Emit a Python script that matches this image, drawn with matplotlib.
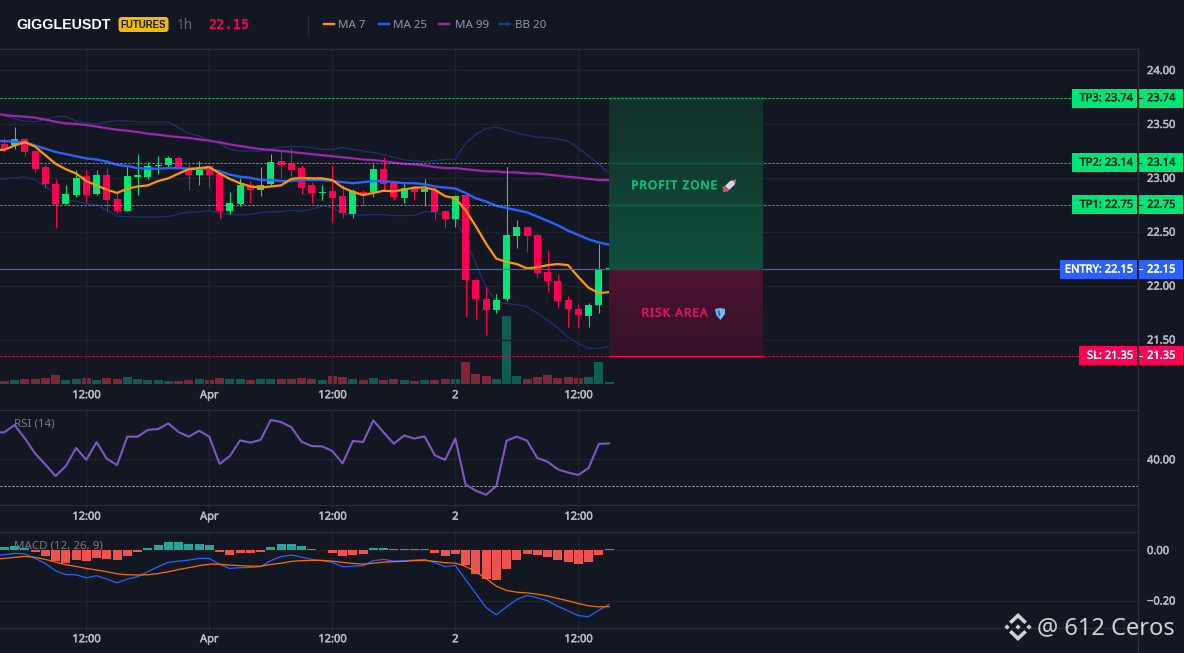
import numpy as np
import matplotlib
matplotlib.use("Agg")
import matplotlib.pyplot as plt
import matplotlib.patheffects as pe
from matplotlib.patches import Rectangle, FancyBboxPatch, Polygon
from matplotlib.transforms import Affine2D

# ---------------- data ----------------
open_ = [23.31,23.30,23.36,23.25,23.10,22.94,22.76,22.84,23.02,22.85,23.03,22.80,22.69,23.01,23.01,23.11,23.12,23.18,23.09,23.03,
         23.11,23.04,22.69,22.76,22.93,22.89,22.94,23.16,23.13,23.09,22.93,22.86,22.88,22.83,22.66,22.87,22.87,23.08,22.95,22.81,
         22.91,22.87,22.89,22.69,22.62,22.84,22.05,21.88,21.77,21.88,22.46,22.54,22.47,22.13,22.04,21.87,21.78,21.72,21.82,22.15]
high = [23.37,23.47,23.37,23.26,23.12,22.99,22.93,23.07,23.07,23.07,23.09,22.87,23.12,23.22,23.15,23.20,23.20,23.20,23.13,23.16,
        23.11,23.05,22.87,23.00,22.97,23.10,23.22,23.26,23.28,23.12,22.96,22.93,23.12,22.93,22.90,22.89,23.13,23.19,22.98,22.94,
        22.92,22.99,22.91,22.70,22.84,22.84,22.06,21.99,21.92,23.10,22.61,22.55,22.49,22.33,22.11,21.90,21.83,21.84,22.39,22.16]
low = [23.24,23.27,23.20,23.05,22.91,22.53,22.76,22.82,22.78,22.84,22.69,22.67,22.69,22.84,22.99,23.04,23.10,23.09,22.89,22.93,
       22.91,22.62,22.66,22.74,22.77,22.83,22.92,23.00,23.02,22.85,22.77,22.79,22.59,22.63,22.63,22.74,22.82,22.89,22.79,22.77,
       22.79,22.74,22.62,22.53,22.54,21.71,21.69,21.54,21.75,21.86,22.35,22.31,22.07,21.94,21.79,21.62,21.62,21.62,21.75,22.14]
close = [23.27,23.36,23.24,23.08,22.94,22.76,22.85,23.00,22.84,23.03,22.79,22.69,23.02,23.02,23.11,23.12,23.18,23.09,23.03,23.09,
         23.03,22.69,22.77,22.93,22.89,22.93,23.15,23.12,23.07,22.91,22.86,22.87,22.81,22.67,22.88,22.84,23.08,22.94,22.82,22.91,
         22.87,22.90,22.68,22.62,22.83,22.05,21.88,21.77,21.87,22.47,22.54,22.46,22.12,22.04,21.86,21.78,21.73,21.82,22.15,22.16]
volume = [7,10,13,13,16,25,10,13,16,10,16,13,19,13,10,10,7,7,10,13,10,16,13,13,10,13,13,13,13,16,
          13,10,22,19,13,10,16,10,13,10,7,10,10,13,13,64,28,22,13,202,22,13,19,25,16,19,16,19,64,3]

# line series start one candle before the first visible candle
ma7 = [23.26,23.26,23.30,23.33,23.29,23.21,23.13,23.08,23.04,22.97,22.93,22.89,22.86,22.90,22.92,22.93,22.97,22.995,23.04,23.08,23.09,
       23.10,23.04,22.99,22.95,22.92,22.91,22.92,22.93,22.99,23.00,22.995,22.995,22.98,22.91,22.87,22.84,22.86,22.88,22.875,22.89,
       22.91,22.91,22.89,22.83,22.81,22.70,22.55,22.39,22.25,22.22,22.20,22.16,22.17,22.19,22.20,22.19,22.08,21.98,21.93,21.94]
ma25 = [23.345,23.34,23.335,23.33,23.30,23.27,23.24,23.22,23.20,23.18,23.17,23.15,23.12,23.11,23.09,23.085,23.085,23.09,23.09,23.085,23.085,
        23.085,23.06,23.03,23.01,23.00,22.98,22.98,22.97,22.97,22.98,22.98,22.98,22.97,22.96,22.95,22.96,22.97,22.97,22.96,22.95,
        22.95,22.94,22.92,22.91,22.90,22.86,22.81,22.78,22.74,22.72,22.70,22.68,22.64,22.60,22.56,22.51,22.47,22.43,22.40,22.38]
ma99 = [23.598,23.583,23.573,23.567,23.558,23.54,23.52,23.505,23.50,23.49,23.475,23.46,23.446,23.437,23.425,23.41,23.40,23.388,23.378,23.37,23.357,
        23.344,23.33,23.31,23.295,23.28,23.267,23.258,23.25,23.24,23.23,23.22,23.21,23.20,23.19,23.18,23.17,23.165,23.155,23.14,23.13,
        23.125,23.115,23.10,23.09,23.09,23.08,23.07,23.06,23.06,23.05,23.05,23.04,23.04,23.03,23.02,23.01,23.00,22.99,22.98,22.98]
bb_upper = [23.60,23.576,23.545,23.527,23.52,23.54,23.57,23.567,23.527,23.508,23.50,23.517,23.53,23.527,23.52,23.52,23.52,23.517,23.465,23.412,23.388,
            23.354,23.32,23.264,23.25,23.25,23.245,23.27,23.283,23.292,23.289,23.28,23.264,23.264,23.28,23.264,23.249,23.233,23.215,23.19,23.165,
            23.16,23.15,23.16,23.17,23.174,23.32,23.403,23.459,23.471,23.443,23.418,23.394,23.378,23.372,23.36,23.34,23.274,23.202,23.128,23.04]
bb_lower = [22.986,22.99,23.00,23.01,22.98,22.92,22.85,22.79,22.785,22.76,22.75,22.70,22.645,22.64,22.636,22.636,22.636,22.64,22.665,22.68,22.686,
            22.695,22.67,22.66,22.655,22.66,22.68,22.683,22.686,22.70,22.69,22.71,22.738,22.726,22.67,22.652,22.655,22.66,22.658,22.65,22.65,
            22.652,22.686,22.68,22.652,22.615,22.423,22.207,21.99,21.85,21.835,21.823,21.805,21.743,21.68,21.61,21.52,21.464,21.418,21.418,21.434]
rsi = [50.0,50.0,52.7,47.8,42.2,38.1,33.8,37.5,44.2,39.8,46.4,40.2,37.9,48.4,48.4,50.9,51.2,53.3,50.1,48.4,50.6,
       48.4,38.3,41.2,47.0,46.2,47.2,54.6,53.8,51.9,46.5,44.9,44.8,43.1,38.5,46.8,46.4,54.4,50.0,45.8,48.8,
       47.7,48.5,41.5,39.8,47.7,30.7,28.4,26.9,30.1,46.9,48.4,46.9,40.5,39.1,36.3,35.1,34.2,36.8,45.7,45.9]
macd = [-.021,-.019,-.013,-.015,-.033,-.053,-.082,-.097,-.098,-.11,-.102,-.115,-.13,-.115,-.106,-.086,-.066,-.049,-.044,-.04,-.033,
        -.033,-.057,-.073,-.07,-.069,-.066,-.042,-.026,-.02,-.028,-.037,-.042,-.049,-.066,-.064,-.062,-.042,-.037,-.044,-.042,
        -.04,-.037,-.05,-.066,-.061,-.117,-.172,-.228,-.256,-.225,-.196,-.18,-.189,-.201,-.223,-.241,-.26,-.264,-.238,-.216]
signal = [-.036,-.033,-.029,-.025,-.029,-.037,-.048,-.058,-.065,-.073,-.079,-.086,-.094,-.098,-.099,-.098,-.093,-.086,-.077,-.07,-.062,
          -.056,-.056,-.06,-.062,-.064,-.064,-.057,-.052,-.045,-.042,-.041,-.041,-.044,-.049,-.053,-.056,-.052,-.048,-.046,-.045,
          -.042,-.041,-.045,-.05,-.052,-.064,-.086,-.113,-.143,-.16,-.167,-.17,-.175,-.182,-.192,-.201,-.212,-.221,-.225,-.224]
hist = [.013,.017,.009,-.008,-.024,-.045,-.053,-.04,-.044,-.032,-.036,-.04,-.024,-.008,.008,.019,.032,.032,.024,.024,
        .02,-.008,-.02,-.012,-.012,-.008,.012,.024,.024,.016,.005,.002,-.012,-.024,-.02,-.016,.008,.008,.004,.004,
        .004,.004,-.012,-.024,-.016,-.06,-.095,-.115,-.119,-.075,-.04,-.016,-.02,-.028,-.04,-.048,-.056,-.048,-.02,.004]

time_ticks = [8, 20, 32, 44, 56]
time_labels = ["12:00", "Apr", "12:00", "2", "12:00"]
price_ticks = [21.5, 22.0, 22.5, 23.0, 23.5, 24.0]
rsi_ticks = [40]
macd_ticks = [-0.2, 0.0]
macd_tick_labels = ["\u22120.20", "0.00"]
rsi_guide = 30
entry, sl = 22.15, 21.35
tp_levels = [22.75, 23.14, 23.74]
tp_names = ["TP1", "TP2", "TP3"]
box_start, box_end = 59, 74

# ---------------- style ----------------
BG = "#131722"; GRID = "#1e222d"; SEP = "#2a2e39"; TXT = "#b8bcc6"
UP = "#00e676"; DOWN = "#ff0055"; BLUE = "#2962ff"
W, H, AXW = 1184, 653, 1138
DOT = (0, (2, 2))
plt.rcParams["font.family"] = ["Noto Sans", "DejaVu Sans"]
fig = plt.figure(figsize=(W/100, H/100), dpi=100, facecolor=BG)

def heavy(color, w=0.35):
    return [pe.withStroke(linewidth=w, foreground=color)]

def pane(top, bottom, **kw):
    a = fig.add_axes([0, 1-bottom/H, AXW/W, (bottom-top)/H], **kw)
    a.set_facecolor("none")
    for s in a.spines.values():
        s.set_visible(False)
    return a

xl = (-0.42, 110.6)
n = len(close)
xs = np.arange(n)
xl_line = np.arange(-1, n)
up = np.array(close) >= np.array(open_)

# volume pane
axv = pane(49, 383.5)
axv.bar(xs, volume, width=0.88, color=["#0f5c55" if u else "#7f2737" for u in up], linewidth=0)
axv.set_xlim(xl); axv.set_ylim(0, 1003); axv.axis("off")

# main pane
ax = pane(49, 383.5)
ax.set_xlim(xl); ax.set_ylim(21.092, 24.195)
ax.set_autoscale_on(False)
ax.grid(True, color=GRID, lw=1.0); ax.set_axisbelow(True)
ax.plot(xl_line, bb_upper, color="#1e3270", lw=0.85, zorder=2)
ax.plot(xl_line, bb_lower, color="#1e3270", lw=0.85, zorder=2)
ax.plot(xl_line, ma99, color="#9c27b0", lw=1.6, zorder=2.2)
body_bot = np.minimum(open_, close); body_h = np.abs(np.array(close)-np.array(open_))
cols = np.where(up, UP, DOWN)
wicks = ax.vlines(xs, low, high, colors=cols, lw=0.75, zorder=3)
wicks.set_snap(True)
ax.bar(xs, np.maximum(body_h, 0.012), bottom=body_bot, width=0.68, color=cols, linewidth=0, zorder=3.1)
ax.plot(xl_line, ma25, color=BLUE, lw=1.7, zorder=4)
ax.plot(xl_line, ma7, color="#ff9800", lw=1.6, zorder=4.1)

for lvl in tp_levels:
    ax.plot([xl[0], xl[1]*1072/AXW], [lvl, lvl], color="#1ee08a" if lvl != tp_levels[-1] else UP,
            lw=0.72, ls=DOT, zorder=4.5)
ax.plot(xl, [entry, entry], color=BLUE, lw=0.85, zorder=4.5)
ax.plot(xl, [sl, sl], color=DOWN, lw=0.72, ls=DOT, zorder=4.5)

def grad(c_top, c_bot, y0, y1):
    c0 = np.array(matplotlib.colors.to_rgb(c_top)); c1 = np.array(matplotlib.colors.to_rgb(c_bot))
    t = np.linspace(0, 1, 128)[:, None, None]
    img = c0[None, None, :]*(1-t) + c1[None, None, :]*t
    ax.imshow(img, extent=[box_start, box_end, y0, y1], aspect="auto", origin="upper", zorder=5, alpha=0.98,
              interpolation="bilinear")
grad("#15302c", "#0f503e", entry, tp_levels[-1])
grad("#501232", "#33142a", sl, entry)
ax.set_xlim(xl); ax.set_ylim(21.092, 24.195)
for lvl in tp_levels[:2]:
    ax.plot([box_start, box_end], [lvl, lvl], color=UP, lw=2.0, alpha=0.10, zorder=5.1)
ax.plot([box_start, box_end], [tp_levels[-1]]*2, color=UP, lw=0.72, ls=DOT, zorder=5.2)
ax.plot([box_start, box_end], [entry, entry], color=DOWN, lw=0.72, ls=DOT, zorder=5.2, alpha=.8)
ax.plot([box_start, box_end], [sl, sl], color=DOWN, lw=0.9, zorder=5.2)

# RSI
axr = pane(410, 505)
axr.set_xlim(xl); axr.set_ylim(23.09, 58.27)
axr.grid(True, color=GRID, lw=1.0); axr.set_axisbelow(True)
axr.plot(xl_line, rsi, color="#7e57c2", lw=1.5, zorder=3)
axr.axhline(rsi_guide, color="#b2b5be", lw=0.72, ls=DOT, zorder=2)

# MACD
axm = pane(532, 627.5)
axm.set_xlim(xl); axm.set_ylim(-.307, .0715)
axm.grid(True, color=GRID, lw=1.0); axm.set_axisbelow(True)
axm.bar(xs, hist, width=0.88, color=["#26a69a" if h >= 0 else "#ef5350" for h in hist], linewidth=0, zorder=2)
axm.plot(xl_line, macd, color=BLUE, lw=0.9, zorder=3)
axm.plot(xl_line, signal, color="#ff6d00", lw=0.9, zorder=3.1)

for a, yt_vals, lab in ((ax, price_ticks, [f"{v:.2f}" for v in price_ticks]),
                        (axr, rsi_ticks, [f"{v:.2f}" for v in rsi_ticks]),
                        (axm, macd_ticks, macd_tick_labels)):
    a.set_xticks(time_ticks); a.set_xticklabels(time_labels, fontsize=8, color=TXT)
    a.set_yticks(yt_vals); a.set_yticklabels(lab, fontsize=8, color=TXT)
    a.yaxis.tick_right()
    a.tick_params(axis="y", length=3.6, width=0.8, color=GRID, pad=2.9)
    a.tick_params(axis="x", length=2.2, width=0.8, color=SEP, pad=2.6)
    for t in a.get_xticklabels() + a.get_yticklabels():
        t.set_path_effects(heavy(TXT))

# ---------------- figure furniture (pixel coordinates, top-left origin) ----------------
PX = Affine2D().scale(1, -1).translate(0, H)

def T(x, y, s, **kw):
    kw.setdefault("va", "center"); kw.setdefault("ha", "left")
    return fig.text(x/W, 1-y/H, s, **kw)

def L(x0, y0, x1, y1, c, lw=0.8, z=1):
    fig.add_artist(plt.Line2D([x0/W, x1/W], [1-y0/H, 1-y1/H], color=c, lw=lw, zorder=z))

def P(pts, c, z=20, **kw):
    fig.add_artist(Polygon(pts, closed=True, transform=PX, facecolor=c, edgecolor="none", zorder=z, **kw))

for yy in (48.5, 410, 505, 532, 627.5):
    L(0, yy, AXW, yy, SEP, 0.9)
L(AXW, 49, AXW, H, SEP, 0.9)

# header
T(16, 25, "GIGGLEUSDT", color="white", fontsize=10.3, fontweight="bold", family=["Liberation Sans"])
fig.add_artist(FancyBboxPatch((118.5, 17), 50, 15, boxstyle="round,pad=0,rounding_size=3", transform=PX,
                              facecolor="#f0b90b", edgecolor="none", zorder=5))
T(143.5, 25, "FUTURES", color="#1a1a1a", fontsize=6.9, fontweight="bold", ha="center", zorder=6, family=["Liberation Sans"])
T(177, 25.5, "1h", color="#5d6470", fontsize=9.8)
T(208, 25, "22.15", color=DOWN, fontsize=9.8, fontweight="bold", family=["DejaVu Sans Mono"])
L(307.5, 17, 307.5, 35, SEP, 0.9)
for x0, c, tx, label in ((324, "#ff9800", 338, "MA 7"), (379, BLUE, 393, "MA 25"),
                         (439, "#9c27b0", 455, "MA 99"), (500, "#1e3a8a", 515, "BB 20")):
    L(x0, 24, x0+10, 24, c, 1.7)
    T(tx, 25, label, color="#8f97a6", fontsize=8.3)

# price tags
tag_h = 19/107.8
yt = ax.get_yaxis_transform()
def tag(price, left_x, fc, tc, label):
    ax.add_patch(Rectangle((left_x/AXW, price-tag_h/2), (1137-left_x)/AXW, tag_h, transform=yt, facecolor=fc,
                           edgecolor="none", clip_on=False, zorder=8))
    ax.add_patch(Rectangle((1138.7/AXW, price-tag_h/2), 44.6/AXW, tag_h, transform=yt, facecolor=fc,
                           edgecolor="none", clip_on=False, zorder=8))
    for xp, s, ha in ((1133, label, "right"), (1147, f"{price:.2f}", "left")):
        ax.text(xp/AXW, price-0.005, s, transform=yt, ha=ha, va="center", color=tc, fontsize=8,
                clip_on=False, zorder=9, path_effects=heavy(tc))
    ax.plot([1139/AXW, 1142/AXW], [price, price], transform=yt, color=tc, lw=0.8, clip_on=False, zorder=9)
for lvl, nm in zip(tp_levels, tp_names):
    tag(lvl, 1072, UP, "#0b2a22", f"{nm}: {lvl:.2f}")
tag(entry, 1060, BLUE, "#ffffff", f"ENTRY: {entry:.2f}")
tag(sl, 1079, DOWN, "#ffffff", f"SL: {sl:.2f}")

# box labels (letter-spaced with hair spaces)
def spaced(s):
    return "\u200a".join(s)
T(674, 186.5, spaced("PROFIT ZONE"), color="#00c878", fontsize=8.4, ha="center", zorder=10, path_effects=heavy("#00c878", 0.4))
T(674.5, 314, spaced("RISK AREA"), color="#e0125c", fontsize=8.4, ha="center", zorder=10, path_effects=heavy("#e0125c", 0.4))
# rocket pictogram
P([(736, 179.5), (730, 181), (725, 186), (729, 190), (734.5, 185)], "#cfd4e6", 21)
P([(736, 179.5), (732.5, 180.3), (735, 183)], "#f04060", 22)
P([(725, 186), (722, 187), (724, 190), (727, 192), (729, 190)], "#e84a6a", 21)
P([(723.5, 189), (723, 192), (726, 191.5)], "#e07030", 22)
# shield pictogram
P([(715, 309), (720, 308), (725, 309), (725, 314), (720.5, 320), (716.5, 315.5)], "#74b8f4", 21)
P([(717.5, 311), (719.5, 310), (720.5, 314), (719.5, 317), (718, 314)], "#2a6fd8", 22)

# pane titles
T(14, 424, "RSI (14)", color="#787b86", fontsize=8.3, zorder=10)
T(14, 546, "MACD (12, 26, 9)", color="#787b86", fontsize=8.3, zorder=10)

# watermark
wm = "#d0d1d6"
cx, cy = 1018, 627
for dx, dy, r in ((0, 0, 2.6), (-11, 0, 2.6), (11, 0, 2.6)):
    P([(cx+dx-r, cy+dy), (cx+dx, cy+dy-r), (cx+dx+r, cy+dy), (cx+dx, cy+dy+r)], wm, 30)
for sgn in (-1, 1):
    P([(cx-9, cy+sgn*5.5), (cx, cy+sgn*14), (cx+9, cy+sgn*5.5), (cx+6.4, cy+sgn*3), (cx, cy+sgn*9), (cx-6.4, cy+sgn*3)], wm, 30)
T(1037, 628, "@ 612 Ceros", color=wm, fontsize=17.0, zorder=30)

fig.savefig("out.png", dpi=100, facecolor=BG)
